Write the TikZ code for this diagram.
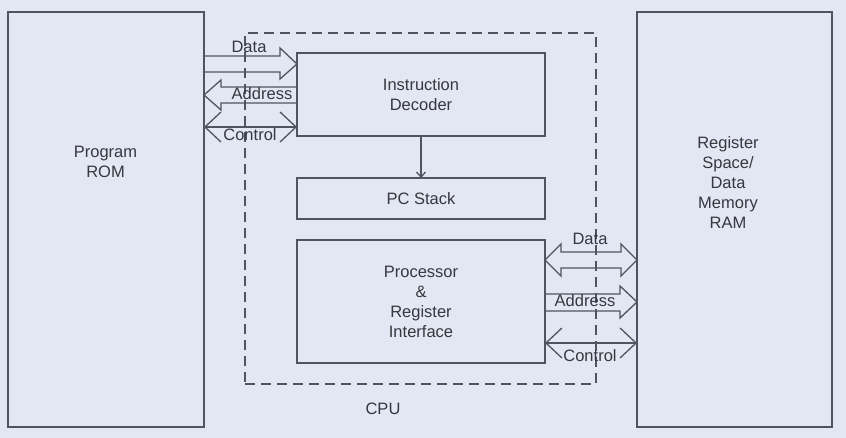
\documentclass[tikz,border=0pt]{standalone}
\usepackage{fontspec}
\setmainfont{Liberation Sans}
\usetikzlibrary{arrows.meta}

\begin{document}
\begin{tikzpicture}[x=1pt,y=-1pt,line join=miter,
  box/.style={draw=custcol_line, line width=1.6pt, inner sep=0, outer sep=0,
    text=custcol_text, align=center, font=\fontsize{16.5pt}{20pt}\selectfont},
  lbl/.style={inner sep=0, outer sep=0, text=custcol_text, align=center,
    font=\fontsize{16.5pt}{20pt}\selectfont},
  bus/.style={draw=custcol_line, line width=1.3pt},
  ctrl/.style={draw=custcol_line, line width=1.3pt,
    {Straight Barb[length=16pt,width=30pt]}-{Straight Barb[length=16pt,width=30pt]}},
  link/.style={draw=custcol_line, line width=1.3pt, -{Straight Barb[length=5pt,width=9pt]}}]
\useasboundingbox (0,0) rectangle (846,438);
\definecolor{custcol_bg}{RGB}{226,231,243}
\definecolor{custcol_line}{RGB}{80,84,94}
\definecolor{custcol_text}{RGB}{55,55,62}
\fill [custcol_bg] (0,0) rectangle (846,438);
% memories and cpu
\node[box, minimum width=196pt, minimum height=415pt] (rom) at (106,219.5) {};
\node[box, minimum width=195pt, minimum height=415pt] (ram) at (734.5,219.5) {};
\node[box, dashed, dash pattern=on 10pt off 6pt, minimum width=351pt, minimum height=351pt] (cpu) at (420.5,208.5) {};
\node[lbl] (romtxt) at (105.5,162) {Program\\ROM};
\node[lbl] (ramtxt) at (728,183) {Register\\Space/\\Data\\Memory\\RAM};
\node[lbl] (cputxt) at (383,409) {CPU};
% cpu blocks
\node[box, minimum width=248pt, minimum height=83pt] (dec) at (421,94.5) {Instruction\\Decoder};
\node[box, minimum width=248pt, minimum height=41pt] (pc) at (421,198.5) {PC Stack};
\node[box, minimum width=248pt, minimum height=123pt] (proc) at (421,301.5) {Processor\\\&\\Register\\Interface};
\draw [link] (dec) -- (pc);
% program bus
\draw [bus] (rom.east |- 0,56) -- (280,56) -- (280,48) -- (dec.west |- 0,64) -- (280,79) -- (280,72) -- (rom.east |- 0,72);
\draw [bus] (dec.west |- 0,87) -- (221,87) -- (221,80) -- (rom.east |- 0,95) -- (221,110) -- (221,103) -- (dec.west |- 0,103);
\draw [ctrl] (rom.east |- 0,127) -- (dec.west |- 0,127);
\node[lbl] (pdata) at (249,47) {Data};
\node[lbl] (paddr) at (262,94) {Address};
\node[lbl] (pctrl) at (250,135) {Control};
% data bus
\draw [bus] (proc.east |- 0,260) -- (561,244) -- (561,252) -- (621,252) -- (621,244) -- (ram.west |- 0,260) -- (621,276) -- (621,268) -- (561,268) -- (561,276) -- cycle;
\draw [bus] (proc.east |- 0,294) -- (620,294) -- (620,286) -- (ram.west |- 0,302) -- (620,318) -- (620,311) -- (proc.east |- 0,311);
\draw [ctrl] (proc.east |- 0,343) -- (ram.west |- 0,343);
\node[lbl] (ddata) at (590,239) {Data};
\node[lbl] (daddr) at (585,301) {Address};
\node[lbl] (dctrl) at (590,356) {Control};
\end{tikzpicture}
\end{document}
